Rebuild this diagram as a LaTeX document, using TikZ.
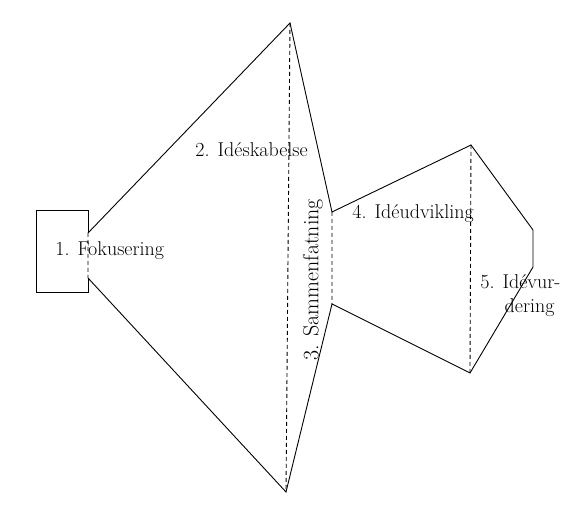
\documentclass[tikz,border=0pt]{standalone}
\usepackage{tikz}
\begin{document}
\begin{tikzpicture}[x=1pt,y=-1pt,line width=0.9pt,
    stage/.style={font=\fontsize{20}{24}\selectfont,inner sep=0pt},
    seam/.style={dash pattern=on 4pt off 3pt}]
    \useasboundingbox (0,0) rectangle (566,518);
    \coordinate (r1) at (36,210); \coordinate (r2) at (88,210);
    \coordinate (r3) at (88,292); \coordinate (r4) at (36,292);
    \coordinate (a) at (88,233); \coordinate (b) at (88,278);
    \coordinate (top) at (290,23); \coordinate (bot) at (286,492);
    \coordinate (c) at (332,212); \coordinate (d) at (332,304);
    \coordinate (e) at (471,145); \coordinate (f) at (470,373);
    \coordinate (g) at (533,230); \coordinate (h) at (533,267);
    \draw (a) -- (r2) -- (r1) -- (r4) -- (r3) -- (b);
    \draw[seam] (a) -- (b) (top) -- (bot) (c) -- (d) (e) -- (f);
    \draw (a) -- (top) -- (c) -- (e) -- (g) -- (h) -- (f) -- (d) -- (bot) -- (b);
    \node[stage,anchor=west] (fok) at (55,251) {1. Fokusering};
    \node[stage,anchor=west] (ide) at (195,150) {2. Idéskabelse};
    \node[stage,rotate=90,font=\fontsize{22}{26}\selectfont] (sam) at (313,280) {3. Sammenfatning};
    \node[stage,anchor=east,align=right] (vur) at (561,296) {5. Idévur-\\dering\kern6pt};
    \node[stage,anchor=west] (udv) at (352,214) {4. Idéudvikling};
\end{tikzpicture}
\end{document}
